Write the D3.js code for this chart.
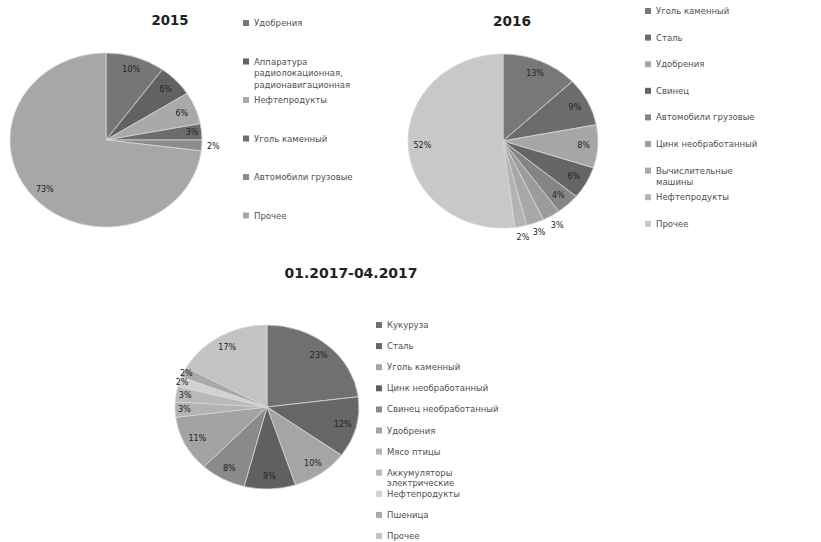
<!DOCTYPE html>
<html lang="ru">
<head>
<meta charset="utf-8">
<title>Структура экспорта</title>
<style>
  body { margin: 0; background: #fff; }
  svg { display: block; }
  .title { font-family: "DejaVu Sans", sans-serif; font-weight: bold; fill: #222; }
  .pct { font-family: "DejaVu Sans", sans-serif; font-size: 8px; fill: #222; }
  .leg { font-family: "DejaVu Sans", sans-serif; font-size: 8.5px; fill: #505050; }
</style>
</head>
<body>
<script src="https://d3js.org/d3.v7.min.js"></script>
<script>
// 2015
const cat2015 = ["Удобрения", "Аппаратура|радиолокационная,|радионавигационная", "Нефтепродукты",
                 "Уголь каменный", "Автомобили грузовые", "Прочее"];
const val2015 = [10, 6, 6, 3, 2, 73];
const col2015 = ["#777777", "#626262", "#a9a9a9", "#6c6c6c", "#8c8c8c", "#a7a7a7"];

// 2016
const cat2016 = ["Уголь каменный", "Сталь", "Удобрения", "Свинец", "Автомобили грузовые",
                 "Цинк необработанный", "Вычислительные|машины", "Нефтепродукты", "Прочее"];
const val2016 = [13, 9, 8, 6, 4, 3, 3, 2, 52];
const col2016 = ["#787878", "#6c6c6c", "#a6a6a6", "#656565", "#858585", "#9b9b9b", "#a8a8a8", "#b3b3b3", "#c8c8c8"];

// 01.2017-04.2017
const cat2017 = ["Кукуруза", "Сталь", "Уголь каменный", "Цинк необработанный", "Свинец необработанный",
                 "Удобрения", "Мясо птицы", "Аккумуляторы|электрические", "Нефтепродукты", "Пшеница", "Прочее"];
const val2017 = [23, 12, 10, 9, 8, 11, 3, 3, 2, 2, 17];
const col2017 = ["#707070", "#666666", "#a5a5a5", "#606060", "#8a8a8a", "#a3a3a3", "#b3b3b3", "#b9b9b9", "#d2d2d2", "#a9a9a9", "#c3c3c3"];

const W = 821, H = 542;

const charts = [
  { title: "2015", cats: cat2015, vals: val2015, cols: col2015,
    cx: 106, cy: 140, rx: 96, ry: 87, tx: 170, ty: 25, tw: 37, ts: 14,
    lx: 243, ly: 23, step: 38.5, lh: 11.5, outMax: 2 },
  { title: "2016", cats: cat2016, vals: val2016, cols: col2016,
    cx: 503, cy: 141, rx: 95, ry: 87, tx: 512, ty: 26, tw: 38, ts: 14,
    lx: 645, ly: 11, step: 26.6, lh: 11, outMax: 3 },
  { title: "01.2017-04.2017", cats: cat2017, vals: val2017, cols: col2017,
    cx: 267, cy: 407, rx: 92, ry: 82, tx: 351, ty: 278, tw: 133, ts: 14,
    lx: 376, ly: 325, step: 21.1, lh: 10, outMax: 0 }
];

// how far out (fraction of radius) a percent label sits
function labelK(v, outMax) {
  if (v <= outMax) return 1.12;
  if (v <= 2) return 0.97;
  if (v <= 3) return 0.9;
  return 0.85;
}

const svg = d3.select("body").append("svg")
  .attr("width", W)
  .attr("height", H);

charts.forEach(function(c) {
  const color = d3.scaleOrdinal().domain(c.cats).range(c.cols);
  const arcs = d3.pie().sort(null).value(function(d) { return d; })(c.vals);
  const arc = d3.arc().innerRadius(0).outerRadius(c.ry);

  // title
  svg.append("text")
    .attr("class", "title")
    .attr("x", c.tx)
    .attr("y", c.ty)
    .attr("text-anchor", "middle")
    .attr("font-size", c.ts)
    .attr("textLength", c.tw)
    .attr("lengthAdjust", "spacingAndGlyphs")
    .text(c.title);

  // slices (pie is a bit wider than tall in the picture)
  const g = svg.append("g")
    .attr("transform", "translate(" + c.cx + "," + c.cy + ") scale(" + (c.rx / c.ry) + ",1)");

  g.selectAll("path")
    .data(arcs)
    .enter().append("path")
    .attr("d", arc)
    .attr("fill", function(d, i) { return color(c.cats[i]); })
    .attr("stroke", "#d6d6d6")
    .attr("stroke-width", 0.8)
    .attr("vector-effect", "non-scaling-stroke");

  // percentage labels
  svg.selectAll(null)
    .data(arcs)
    .enter().append("text")
    .attr("class", "pct")
    .attr("text-anchor", "middle")
    .attr("dy", "0.35em")
    .attr("x", function(d) {
      const m = (d.startAngle + d.endAngle) / 2;
      return c.cx + Math.sin(m) * c.rx * labelK(d.value, c.outMax);
    })
    .attr("y", function(d) {
      const m = (d.startAngle + d.endAngle) / 2;
      return c.cy - Math.cos(m) * c.ry * labelK(d.value, c.outMax);
    })
    .text(function(d) { return d.value + "%"; });

  // legend
  const leg = svg.selectAll(null)
    .data(c.cats)
    .enter().append("g")
    .attr("transform", function(d, i) { return "translate(" + c.lx + "," + (c.ly + i * c.step) + ")"; });

  leg.append("rect")
    .attr("x", 0)
    .attr("y", -3)
    .attr("width", 6)
    .attr("height", 6)
    .attr("fill", function(d) { return color(d); });

  leg.append("text")
    .attr("class", "leg")
    .attr("x", 11)
    .attr("y", 3)
    .each(function(d) {
      const t = d3.select(this);
      d.split("|").forEach(function(line, j) {
        t.append("tspan")
          .attr("x", 11)
          .attr("dy", j === 0 ? 0 : c.lh)
          .text(line);
      });
    });
});
</script>
</body>
</html>
